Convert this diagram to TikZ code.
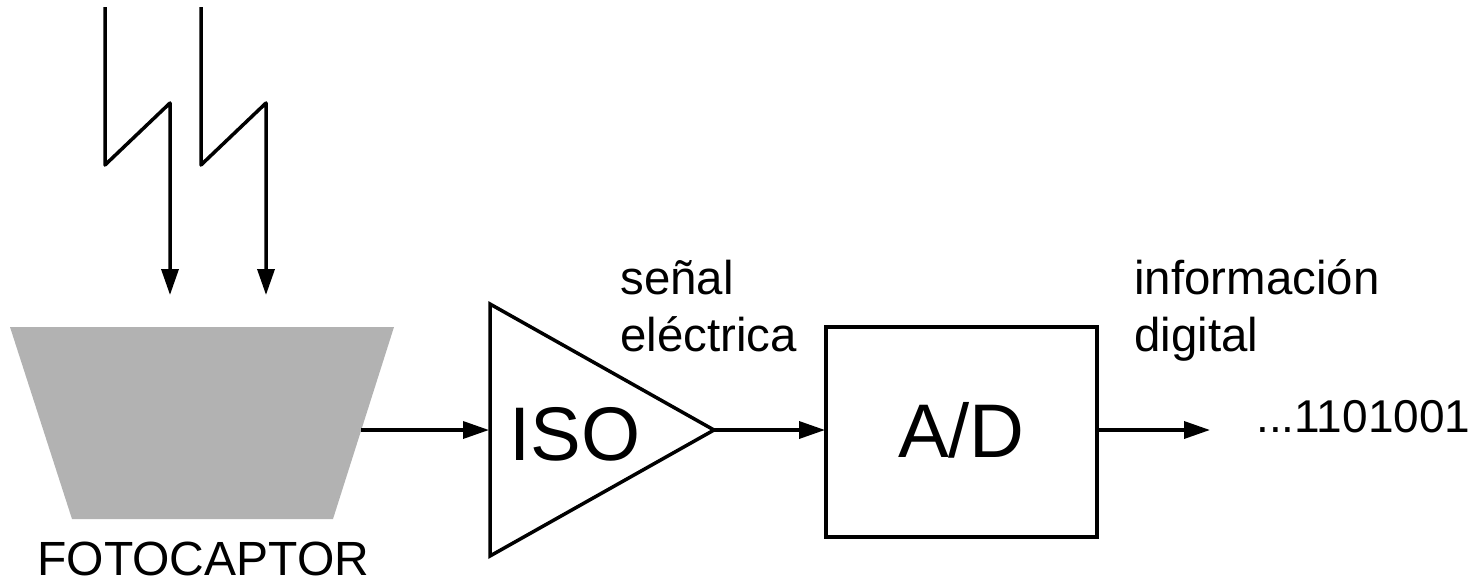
\documentclass[tikz,border=0pt]{standalone}
\usepackage{fontspec}
\setmainfont{Liberation Sans}
\usetikzlibrary{arrows.meta}
\tikzset{
  px/.style={x=0.5pt,y=-0.5pt},
  wire/.style={line width=1.75pt,line join=miter},
  flow/.style={wire,line join=round,-{Triangle[length=13pt,width=8.5pt]}},
  lab/.style={anchor=base west,inner sep=0pt,font=\fontsize{23.7}{28}\selectfont},
  bigl/.style={anchor=base,inner sep=0pt,font=\fontsize{38}{44}\selectfont}
}
\definecolor{sensor}{RGB}{178,178,178}
\begin{document}
\begin{tikzpicture}[px]
\useasboundingbox (0,0) rectangle (1476,578);
% trapezoid
\coordinate (t1) at (10,327);
\coordinate (t2) at (394,327);
\coordinate (t3) at (333,519);
\coordinate (t4) at (72,519);
\fill[sensor] (t1) -- (t2) -- (t3) -- (t4) -- cycle;
\coordinate (sensorout) at (361,430);
% triangle
\coordinate (a1) at (490,304);
\coordinate (a2) at (490,556);
\coordinate (a3) at (714,430);
\coordinate (ain) at (489,430);
\draw[wire] (a1) -- (a3) -- (a2) -- cycle;
% box
\node[draw,wire,minimum width=135.5pt,minimum height=105pt,inner sep=0pt,outer sep=0pt,anchor=north west] (ad) at (826,327) {};
\coordinate (adin) at (825,430);
\coordinate (adout) at (1097,430);
\coordinate (dataend) at (1210,430);
% rays
\coordinate (r1a) at (105,7);
\coordinate (r1b) at (105,165);
\coordinate (r1c) at (170,103);
\coordinate (r1d) at (170,295);
\coordinate (r2a) at (201,7);
\coordinate (r2b) at (201,165);
\coordinate (r2c) at (266,103);
\coordinate (r2d) at (266,295);
\draw[flow] (r1a) -- (r1b) -- (r1c) -- (r1d);
\draw[flow] (r2a) -- (r2b) -- (r2c) -- (r2d);
% connectors
\draw[flow] (sensorout) -- (ain);
\draw[flow] (a3) -- (adin);
\draw[flow] (adout) -- (dataend);
% labels
\node[bigl] (iso) at (575,460) {ISO};
\node[bigl] (adl) at (961.5,457) {A/D};
\node[lab] (s1) at (620,294) {señal};
\node[lab] (s2) at (620,351) {eléctrica};
\node[lab] (i1) at (1134,294) {información};
\node[lab] (i2) at (1134,351) {digital};
\node[lab,font=\fontsize{23}{28}\selectfont] (bits) at (1256,432) {...1101001};
\node[lab,font=\fontsize{24}{28}\selectfont] (foto) at (37,575) {FOTOCAPTOR};
\end{tikzpicture}
\end{document}
